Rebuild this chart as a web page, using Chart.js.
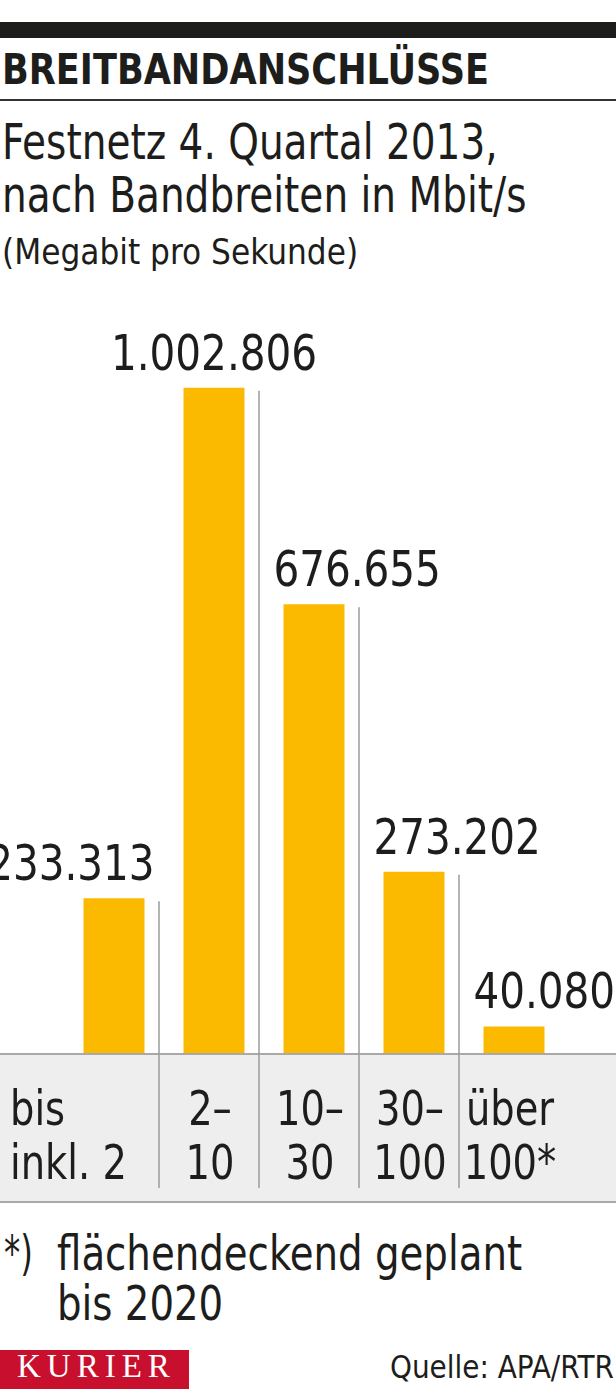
<!DOCTYPE html>
<html><head><meta charset="utf-8">
<script src="https://cdn.jsdelivr.net/npm/chart.js@4.4.1/dist/chart.umd.min.js"></script>
<style>
html,body{margin:0;padding:0;background:#fff;}
body{width:616px;height:1389px;position:relative;overflow:hidden;font-family:"DejaVu Sans Condensed","Roboto",sans-serif;color:#1d1d1b;}
.abs{position:absolute;white-space:nowrap;}
.sx{display:inline-block;transform-origin:0 0;}
#chartWrap{position:absolute;left:0;top:250px;width:616px;height:960px;}
</style></head><body>
<div class="abs" style="left:0;top:22px;width:616px;height:16px;background:#1d1d1b"></div>
<div class="abs" style="left:2px;top:49px;font-size:42px;line-height:42px;font-weight:bold;"><span class="sx" style="transform:scaleX(0.93)">BREITBANDANSCHLÜSSE</span></div>
<div class="abs" style="left:0;top:99px;width:616px;height:2px;background:#333"></div>
<div class="abs" style="left:2px;top:116px;font-size:49px;line-height:53px;"><span class="sx" style="transform:scaleX(0.885)">Festnetz 4. Quartal 2013,<br>nach Bandbreiten in Mbit/s</span></div>
<div class="abs" style="left:2px;top:234px;font-size:36px;line-height:36px;"><span class="sx" style="transform:scaleX(0.965)">(Megabit pro Sekunde)</span></div>
<div id="chartWrap"><canvas id="c" width="616" height="960" style="width:616px;height:960px"></canvas></div>
<div class="abs" style="left:4px;top:1228px;font-size:48px;line-height:50px;"><span class="sx" style="transform:scaleX(0.75)">*)</span></div>
<div class="abs" style="left:57px;top:1228px;font-size:48px;line-height:50px;"><span class="sx" style="transform:scaleX(0.896)">flächendeckend geplant<br>bis 2020</span></div>
<div class="abs" style="left:0;top:1350px;width:172px;height:39px;padding-left:17px;background:#c8102e;color:#fff;font-family:'Liberation Serif','DejaVu Serif',serif;font-size:33px;line-height:33px;letter-spacing:6px;">KURIER</div>
<div class="abs" style="right:2px;top:1351px;font-size:32px;line-height:32px;"><span class="sx" style="transform:scaleX(0.97);transform-origin:100% 0">Quelle: APA/RTR</span></div>
<script>
const categories = [["bis","inkl. 2"],["2–","10"],["10–","30"],["30–","100"],["über","100*"]];
const values = [233313, 1002806, 676655, 273202, 40080];
const valueLabels = ["233.313","1.002.806","676.655","273.202","40.080"];
const yMax = 1200000;

const FONT = '"DejaVu Sans Condensed","Roboto",sans-serif';
const labelAlign = ['right','center','left','left','left'];

function drawText(ctx, text, x, y, align, k) {
  ctx.save();
  ctx.translate(x, y);
  ctx.scale(k, 1);
  ctx.textAlign = align;
  ctx.fillText(text, 0, 0);
  ctx.restore();
}

const decor = {
  id:'decor',
  beforeDatasetsDraw(chart){
    const {ctx, chartArea} = chart;
    const W = chart.width;
    ctx.save();
    ctx.fillStyle = '#efeeef';
    ctx.fillRect(0, chartArea.bottom, W, 952 - chartArea.bottom);
    ctx.fillStyle = '#a9a9a9';
    ctx.fillRect(0, chartArea.bottom, W, 2);
    ctx.fillRect(0, 951, W, 2);
    ctx.restore();
  },
  afterDatasetsDraw(chart){
    const {ctx, chartArea} = chart;
    const xs = chart.scales.x, ys = chart.scales.y;
    const n = categories.length;
    const cw = (chartArea.right - chartArea.left) / n;
    const meta = chart.getDatasetMeta(0);
    ctx.save();
    ctx.strokeStyle = '#9b9b9b';
    ctx.lineWidth = 1.5;
    for (let i = 0; i < n - 1; i++) {
      const x = xs.getPixelForValue(i) + 0.45 * cw;
      const yTop = ys.getPixelForValue(values[i]) + 3;
      ctx.beginPath();
      ctx.moveTo(x, yTop);
      ctx.lineTo(x, 938);
      ctx.stroke();
    }
    ctx.fillStyle = '#1d1d1b';
    ctx.textBaseline = 'alphabetic';
    ctx.font = '50px ' + FONT;
    for (let i = 0; i < n; i++) {
      const bar = meta.data[i];
      const half = bar.width / 2;
      const a = labelAlign[i];
      let x;
      if (a === 'right') { x = bar.x + half + 10; }
      else if (a === 'left') { x = bar.x - half - 10; }
      else { x = bar.x; }
      drawText(ctx, valueLabels[i], x, bar.y - 18, a, 0.9);
    }
    ctx.font = '48px ' + FONT;
    for (let i = 0; i < n; i++) {
      const cx = xs.getPixelForValue(i);
      const lines = categories[i];
      for (let j = 0; j < lines.length; j++) {
        const y = chartArea.bottom + 72 + j * 54;
        if (i === 0) drawText(ctx, lines[j], 10, y, 'left', 0.89);
        else drawText(ctx, lines[j], cx - 4, y, 'center', 0.89);
      }
    }
    ctx.restore();
  }
};

new Chart(document.getElementById('c'), {
  type: 'bar',
  data: {
    labels: categories.map(c => c.join(' ')),
    datasets: [{
      data: values,
      backgroundColor: '#fbba00',
      borderWidth: 0,
      barPercentage: 0.61,
      categoryPercentage: 1
    }]
  },
  options: {
    responsive: false,
    animation: false,
    devicePixelRatio: 1,
    layout: { padding: { left: 64, right: 52, top: 7, bottom: 157 } },
    plugins: { legend: { display: false }, tooltip: { enabled: false }, title: { display: false } },
    scales: {
      x: { display: false },
      y: { display: false, min: 0, max: yMax }
    }
  },
  plugins: [decor]
});
</script>
</body></html>
